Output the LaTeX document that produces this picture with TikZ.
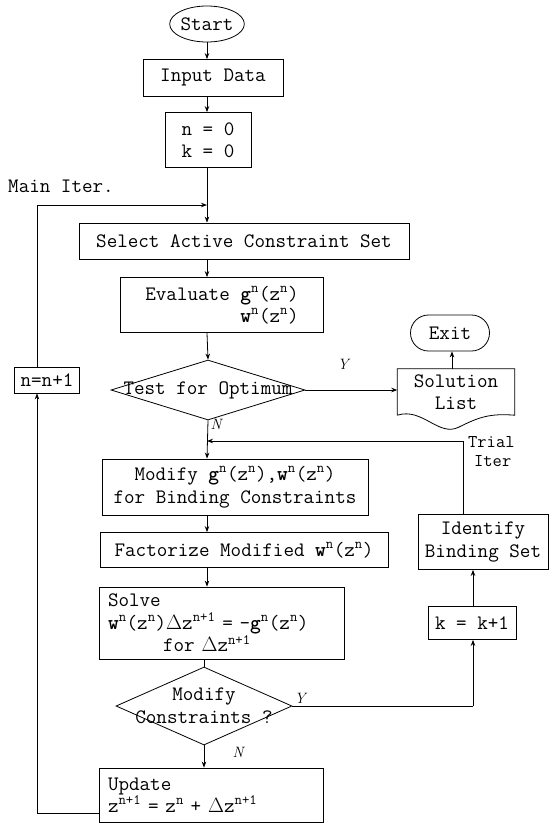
\documentclass[tikz,border=0pt]{standalone}
\usetikzlibrary{shapes.geometric,shapes.misc,arrows.meta}

% superscript and bold-letter helpers for the iteration formulas
\newcommand{\upn}{\textsuperscript{n}}
\newcommand{\upnp}{\textsuperscript{n+1}}
\newcommand{\bg}{\textbf{g}}
\newcommand{\bw}{\textbf{w}}
\newcommand{\dz}{$\Delta$z}

\begin{document}
\begin{tikzpicture}[x=1pt,y=-1pt,
  every node/.style={font=\ttfamily\fontsize{20.5}{22.5}\selectfont, inner sep=0pt},
  box/.style={draw, rectangle, line width=0.8pt},
  decision/.style={draw, diamond, line width=0.8pt},
  terminal/.style={draw, rounded rectangle, line width=0.8pt},
  flow/.style={line width=0.8pt, -{Stealth[length=6pt,width=4.5pt]}},
  plain/.style={line width=0.8pt},
  tag/.style={font=\rmfamily\itshape\fontsize{15}{16}\selectfont}
]
\useasboundingbox (0,0) rectangle (556,823);

% main column
\node[draw, ellipse, line width=0.8pt, minimum width=71pt, minimum height=36pt] (start) at (207,24) {Start};
\node[box, minimum width=140pt, minimum height=37pt] (input) at (213,78) {Input Data};
\node[box, minimum width=86pt, minimum height=55pt, align=center] (init) at (208,140) {n = 0\\k = 0};
\node[box, minimum width=330pt, minimum height=36pt] (select) at (244,241) {Select Active Constraint Set};
\node[box, minimum width=203pt, minimum height=55pt, align=right] (eval) at (222,305)
  {Evaluate \bg\upn(z\upn)\\\bw\upn(z\upn)};
\node[decision, minimum width=194pt, minimum height=60pt] (test) at (208,390) {};
\node at (test) {Test for Optimum};
\node[box, minimum width=266pt, minimum height=56pt, align=center] (modify) at (235,487)
  {Modify \bg\upn(z\upn),\bw\upn(z\upn)\\for Binding Constraints};
\node[box, minimum width=288pt, minimum height=35pt] (fact) at (244,550)
  {Factorize Modified \bw\upn(z\upn)};
\node[box, minimum width=245pt, minimum height=72pt, align=left, text width=228pt] (solve) at (222,623)
  {Solve\\\bw\upn(z\upn)\dz\upnp{} = -\bg\upn(z\upn)\\\hspace*{55pt}for \dz\upnp};
\node[decision, minimum width=176pt, minimum height=78pt] (modc) at (204,706) {};
\node[align=center] at (modc) {Modify\\Constraints ?};
\node[box, minimum width=224pt, minimum height=54pt, align=left, text width=206pt] (update) at (211,795)
  {Update\\z\upnp{} = z\upn{} + \dz\upnp};

% side boxes
\node[box, minimum width=65pt, minimum height=26pt] (incn) at (47,380) {n=n+1};
\node[minimum width=117pt, minimum height=46pt, align=center] (sol) at (456,392) {Solution\\List};
\node[terminal, minimum width=79pt, minimum height=36pt] (exit) at (450,333) {Exit};
\node[box, minimum width=130pt, minimum height=55pt, align=center] (ident) at (483,542) {Identify\\Binding Set};
\node[box, minimum width=88pt, minimum height=33pt] (inck) at (472,623) {k = k+1};

% document outline of the solution list
\draw[plain] (sol.south west) -- (sol.north west) -- (sol.north east) -- (sol.south east)
  .. controls +(-25,-2) and +(20,-10) .. ([xshift=-56pt,yshift=-12pt]sol.south east)
  .. controls +(-20,10) and +(25,-8) .. (sol.south west);

% labels
\node[anchor=west] (mainlbl) at (8,186) {Main Iter.};
\node[anchor=west, align=left, font=\ttfamily\fontsize{18}{19}\selectfont] (triallbl) at (468,452) {Trial\\\hspace*{6pt}Iter};
\node[tag] (ytest) at (343,364) {Y};
\node[tag] (ntest) at (216,424) {N};
\node[tag] (ymod) at (300,698) {Y};
\node[tag] (nmod) at (238,752) {N};

% junction points
\coordinate (mainjoin) at (207,205);
\coordinate (trialjoin) at (207,441);
\coordinate (trialcorner) at (463,441);
\coordinate (ycorner) at (473,706);
\coordinate (loopbottom) at (37,813);
\coordinate (looptop) at (37,205);

% main flow
\draw[flow] (start.south -| 207,0) -- (input.north -| 207,0);
\draw[flow] (input.south -| 207,0) -- (init.north -| 207,0);
\draw[flow] (init.south -| 207,0) -- (select.north -| 207,0);
\draw[flow] (select.south -| 207,0) -- (eval.north -| 207,0);
\draw[flow] (eval.south -| 207,0) -- (test.north);
\draw[flow] (test.south) -- (modify.north -| 207,0);
\draw[flow] (modify.south -| 207,0) -- (fact.north -| 207,0);
\draw[flow] (fact.south -| 207,0) -- (solve.north -| 207,0);
\draw[plain] (solve.south -| modc.north) -- (modc.north);
\draw[flow] (modc.south) -- (update.north -| modc.south);

% exit branch
\draw[flow] (test.east) -- (sol.west |- test.east);
\draw[flow] (sol.north -| 452,0) -- (exit.south -| 452,0);

% binding-constraint branch
\draw[plain] (modc.east) -- (ycorner);
\draw[flow] (ycorner) -- (inck.south -| ycorner);
\draw[flow] (inck.north -| ycorner) -- (ident.south -| ycorner);
\draw[plain] (ident.north -| trialcorner) -- (trialcorner);
\draw[flow] (trialcorner) -- (trialjoin);

% main iteration loop
\draw[plain] (update.west |- loopbottom) -- (loopbottom);
\draw[flow] (loopbottom) -- (incn.south -| loopbottom);
\draw[plain] (incn.north -| looptop) -- (looptop);
\draw[flow] (looptop) -- (mainjoin);
\end{tikzpicture}
\end{document}
